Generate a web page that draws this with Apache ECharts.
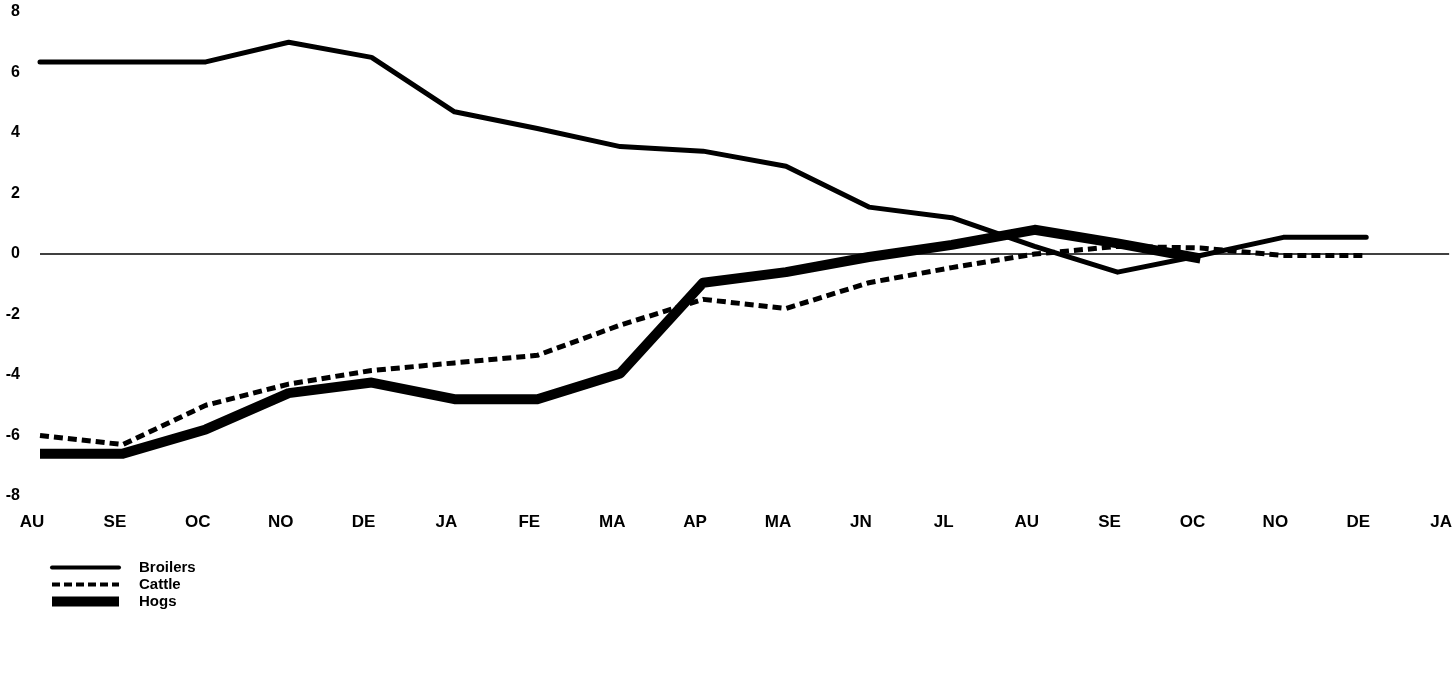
<!DOCTYPE html>
<html>
<head>
<meta charset="utf-8">
<script src="https://cdn.jsdelivr.net/npm/echarts@6/dist/echarts.min.js"></script>
<style>
html,body{margin:0;padding:0;background:#fff;}
#chart{width:1455px;height:685px;}
</style>
</head>
<body>
<div id="chart"></div>
<script>
const months = ['AU','SE','OC','NO','DE','JA','FE','MA','AP','MA','JN','JL','AU','SE','OC','NO','DE','JA'];
const yTicks = [-8,-6,-4,-2,0,2,4,6,8];
const broilers = [6.35,6.35,6.35,7.0,6.5,4.7,4.15,3.55,3.4,2.9,1.55,1.2,0.25,-0.6,-0.05,0.55,0.55,null];
const cattle = [-6.0,-6.3,-5.0,-4.3,-3.85,-3.6,-3.35,-2.35,-1.5,-1.8,-0.95,-0.45,0.0,0.25,0.2,-0.05,-0.05,null];
const hogs = [-6.6,-6.6,-5.8,-4.6,-4.25,-4.8,-4.8,-3.95,-0.95,-0.6,-0.1,0.3,0.8,0.35,-0.15,null,null,null];

const chart = echarts.init(document.getElementById('chart'));
const font = 'Liberation Sans, Arial, Helvetica, sans-serif';
chart.setOption({
  animation:false,
  backgroundColor:'#fff',
  grid:{left:40,right:0,top:12,bottom:189,containLabel:false},
  legend:{
    orient:'vertical',left:42,top:555,itemWidth:67,itemHeight:14,itemGap:2,
    itemStyle:{opacity:0},
    textStyle:{fontFamily:font,fontWeight:'bold',fontSize:15,color:'#000',padding:[0,0,0,15]},
    data:[
      {name:'Broilers',lineStyle:{width:4,color:'#000',type:'solid'}},
      {name:'Cattle',lineStyle:{width:4,color:'#000',type:[8,4]}},
      {name:'Hogs',lineStyle:{width:10,color:'#000',type:'solid'}}
    ]
  },
  xAxis:{
    type:'category',boundaryGap:false,data:months,
    axisLine:{show:false},axisTick:{show:false},splitLine:{show:false},
    axisLabel:{interval:0,margin:18,padding:[0,16,0,0],fontFamily:font,fontWeight:900,fontSize:17,color:'#000'}
  },
  yAxis:{
    type:'value',min:-8,max:8,interval:2,
    axisLine:{show:false},axisTick:{show:false},splitLine:{show:false},
    axisLabel:{margin:20,fontFamily:font,fontWeight:900,fontSize:16,color:'#000',
      formatter:v=>yTicks.includes(v)?String(v):''}
  },
  series:[
    {name:'Broilers',type:'line',data:broilers,showSymbol:false,symbol:'none',
      lineStyle:{color:'#000',width:5,cap:'round',join:'round'},itemStyle:{color:'#000'},
      markLine:{silent:true,symbol:'none',label:{show:false},
        lineStyle:{color:'#000',width:1.5,type:'solid'},data:[{yAxis:0}]}},
    {name:'Cattle',type:'line',data:cattle,showSymbol:false,symbol:'none',
      lineStyle:{color:'#000',width:5,type:[9,5],join:'round'},itemStyle:{color:'#000'}},
    {name:'Hogs',type:'line',data:hogs,showSymbol:false,symbol:'none',
      lineStyle:{color:'#000',width:10,join:'round'},itemStyle:{color:'#000'}}
  ]
});
</script>
</body>
</html>
